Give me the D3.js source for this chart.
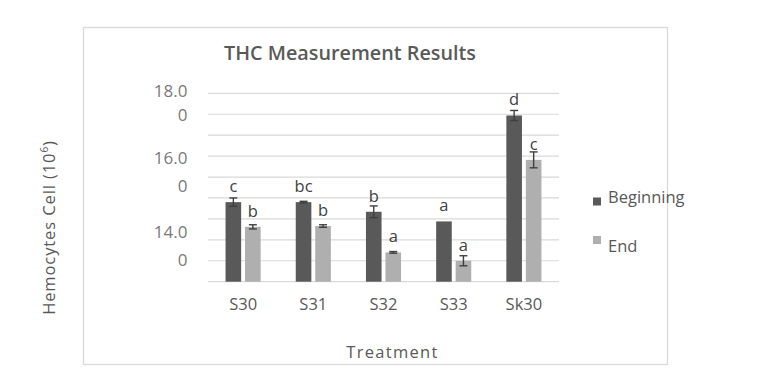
<!DOCTYPE html>
<html>
<head>
<meta charset="utf-8">
<script src="https://cdn.jsdelivr.net/npm/d3@7"></script>
<style>
  html, body { margin: 0; padding: 0; background: #fff; }
  svg { display: block; font-family: "Open Sans", sans-serif; }
</style>
</head>
<body>
<svg id="chart" width="763" height="380"></svg>
<script>
// ---- data ----
const categories = ["S30", "S31", "S32", "S33", "Sk30"];
const seriesNames = ["Beginning", "End"];
const beginningValues = [15.40, 15.40, 15.17, 14.94, 17.47];
const endValues = [14.81, 14.83, 14.20, 14.00, 16.41];
const beginningErrors = [0.10, 0.02, 0.14, 0.00, 0.12];
const endErrors = [0.05, 0.03, 0.02, 0.12, 0.19];
const beginningLetters = ["c", "bc", "b", "a", "d"];
const endLetters = ["b", "b", "a", "a", "c"];
const yDomain = [13.5, 18.0];
const gridStep = 0.5;
const yLabelTicks = [18, 16, 14];
const yLabelTexts = ["18.00", "16.00", "14.00"];
const titleText = "THC Measurement Results";
const xTitle = "Treatment";

(function () {
// ---- layout ----
const svg = d3.select("#chart");
const pLeft = 208, pRight = 559, pTop = 93.3, pBottom = 281.7;
const colors = { Beginning: "#595959", End: "#afafaf" };

svg.append("rect").attr("x", 83.5).attr("y", 27.5).attr("width", 584).attr("height", 337)
  .attr("fill", "#fff").attr("stroke", "#d9d9d9").attr("stroke-width", 1.3);

const x0 = d3.scaleBand().domain(categories).range([pLeft, pRight]).paddingInner(0.5).paddingOuter(0.25);
const x1 = d3.scaleBand().domain(seriesNames).range([0, x0.bandwidth()]).paddingInner(0.2);
const y = d3.scaleLinear().domain(yDomain).range([pBottom, pTop]);

// gridlines
const gridVals = d3.range(yDomain[0], yDomain[1] + 1e-9, gridStep);
svg.append("g").selectAll("line").data(gridVals).join("line")
  .attr("x1", pLeft).attr("x2", pRight)
  .attr("y1", d => y(d)).attr("y2", d => y(d))
  .attr("stroke", "#d9d9d9").attr("stroke-width", 1.2);

// y tick labels (wrapped "18.0" / "0" as in the source), one text element each
const tickFs = 17;
const labelLayout = [ {first: -2, gap: 23.5}, {first: -19.5, gap: 28}, {first: -29, gap: 28.3} ];
const yl = svg.append("g").attr("font-size", tickFs).attr("fill", "#7a7a7a").attr("text-anchor", "end");
yLabelTicks.forEach((v, i) => {
  const t = yLabelTexts[i];
  const c1 = y(v) + labelLayout[i].first;
  const c2 = c1 + labelLayout[i].gap;
  const txt = yl.append("text");
  txt.append("tspan").attr("x", 187.5).attr("y", c1 + 0.357 * tickFs).text(t.slice(0, t.length - 1));
  txt.append("tspan").attr("x", 187.5).attr("y", c2 + 0.357 * tickFs).text(t.slice(t.length - 1));
});

// x axis
const xAxis = d3.axisBottom(x0).tickSize(0).tickPadding(0);
const gx = svg.append("g").attr("transform", `translate(0,${pBottom})`).call(xAxis);
gx.select(".domain").remove();
gx.selectAll("text").attr("font-family", "Open Sans").attr("font-size", 16.5)
  .attr("fill", "#595959").attr("dy", null).attr("y", 28.5);

// bars
const rows = categories.map((c, i) => ({
  cat: c,
  items: [
    { s: "Beginning", v: beginningValues[i], e: beginningErrors[i], l: beginningLetters[i] },
    { s: "End", v: endValues[i], e: endErrors[i], l: endLetters[i] }
  ]
}));
const groups = svg.append("g").selectAll("g").data(rows).join("g")
  .attr("transform", d => `translate(${x0(d.cat)},0)`);
groups.selectAll("rect").data(d => d.items).join("rect")
  .attr("x", d => x1(d.s)).attr("width", x1.bandwidth())
  .attr("y", d => y(d.v)).attr("height", d => y(yDomain[0]) - y(d.v))
  .attr("fill", d => colors[d.s]);

// error bars
const eb = groups.selectAll("g.err").data(d => d.items.filter(it => it.e > 0)).join("g").attr("class", "err")
  .attr("stroke", "#3f3f3f").attr("stroke-width", 1.4);
const cx = d => x1(d.s) + x1.bandwidth() / 2;
eb.append("line").attr("x1", cx).attr("x2", cx)
  .attr("y1", d => y(d.v + d.e)).attr("y2", d => y(d.v - d.e));
eb.append("line").attr("x1", d => cx(d) - 4).attr("x2", d => cx(d) + 4)
  .attr("y1", d => y(d.v + d.e)).attr("y2", d => y(d.v + d.e));
eb.append("line").attr("x1", d => cx(d) - 4).attr("x2", d => cx(d) + 4)
  .attr("y1", d => y(d.v - d.e)).attr("y2", d => y(d.v - d.e));

// significance letters
groups.selectAll("text.sig").data(d => d.items).join("text").attr("class", "sig")
  .attr("x", cx)
  .attr("y", d => y(d.v) - 10)
  .attr("text-anchor", "middle").attr("font-size", 16.5).attr("fill", "#404040")
  .text(d => d.l);

// title
svg.append("text").attr("x", 350).attr("y", 60).attr("text-anchor", "middle")
  .attr("font-size", 19.8).attr("font-weight", 600).attr("fill", "#595959").text(titleText);

// axis titles
svg.append("text").attr("x", 392.5).attr("y", 358).attr("text-anchor", "middle")
  .attr("font-size", 16.5).attr("letter-spacing", 1.3).attr("fill", "#595959").text(xTitle);

const yt = svg.append("text").attr("transform", "translate(55,227.5) rotate(-90)")
  .attr("text-anchor", "middle").attr("font-size", 16.5).attr("letter-spacing", 0.9).attr("fill", "#595959");
yt.append("tspan").text("Hemocytes Cell (10");
yt.append("tspan").attr("font-size", 10).attr("dy", -7).text("6");
yt.append("tspan").attr("dy", 7).text(")");

// legend
const legend = svg.append("g");
const legendY = [201.5, 240];
const legendTextY = [203, 251.5];
seriesNames.forEach((s, i) => {
  legend.append("rect").attr("x", 593).attr("y", legendY[i] - 4).attr("width", 8).attr("height", 8).attr("fill", colors[s]);
  legend.append("text").attr("x", 608).attr("y", legendTextY[i]).attr("font-size", 16.5).attr("fill", "#595959").text(s);
});
})();
</script>
</body>
</html>
